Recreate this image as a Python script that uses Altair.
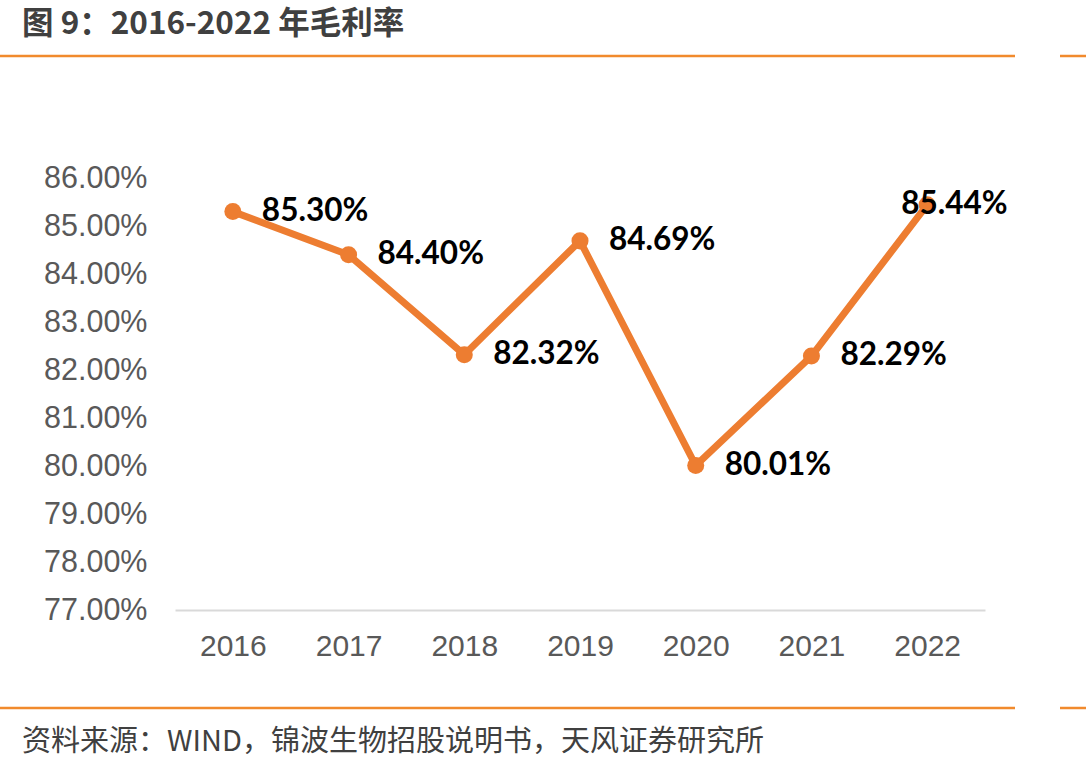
import altair as alt
import pandas as pd

# Gross margin by year
years = ["2016", "2017", "2018", "2019", "2020", "2021", "2022"]
margin = [0.8530, 0.8440, 0.8232, 0.8469, 0.8001, 0.8229, 0.8544]
y_ticks = [0.77, 0.78, 0.79, 0.80, 0.81, 0.82, 0.83, 0.84, 0.85, 0.86]

title_text = "图 9：2016-2022 年毛利率"
source_text = "资料来源：WIND，锦波生物招股说明书，天风证券研究所"

ORANGE = "#ED7D31"
RULE_ORANGE = "#F18A2D"
GREY_TEXT = "#404040"

df = pd.DataFrame({"year": years, "margin": margin})
df["last"] = df["year"] == years[-1]

x_enc = alt.X(
    "year:O",
    scale=alt.Scale(type="point", padding=0.5),
    axis=alt.Axis(
        title=None, labelAngle=0, ticks=False, tickSize=0, grid=False,
        domainColor="#D9D9D9", domainWidth=2,
        labelFont="Liberation Sans", labelFontSize=30, labelColor="#595959",
        labelPadding=21,
    ),
)
y_enc = alt.Y(
    "margin:Q",
    scale=alt.Scale(domain=[0.77, 0.86], nice=False, zero=False),
    axis=alt.Axis(
        title=None, values=y_ticks, format=".2%", ticks=False, tickSize=0,
        domain=False, grid=False,
        labelFont="Liberation Sans", labelFontSize=30.5, labelColor="#595959",
        labelPadding=28,
    ),
)

base = alt.Chart(df).encode(x=x_enc, y=y_enc)

line = base.mark_line(color=ORANGE, strokeWidth=7)
points = base.mark_point(filled=True, color=ORANGE, size=290, opacity=1)

label_style = dict(font="Lato", fontWeight="bold", fontSize=31.5, color="#000000",
                   align="left", baseline="middle")
labels = base.transform_filter("!datum.last").mark_text(dx=29, **label_style).encode(
    text=alt.Text("margin:Q", format=".2%")
)
label_last = base.transform_filter("datum.last").mark_text(dx=-26, **label_style).encode(
    text=alt.Text("margin:Q", format=".2%")
)

one = pd.DataFrame({"t": [0]})

title = alt.Chart(pd.DataFrame({"t": [title_text]})).mark_text(
    font="Noto Sans CJK SC", fontWeight="bold", fontSize=31.5, color=GREY_TEXT,
    align="left", baseline="middle",
).encode(x=alt.value(-153), y=alt.value(-153), text="t:N")

source = alt.Chart(pd.DataFrame({"t": [source_text]})).mark_text(
    font="Noto Sans CJK SC", fontSize=29, color=GREY_TEXT,
    align="left", baseline="middle",
).encode(x=alt.value(-153), y=alt.value(564), text="t:N")

def rule(x0, x1, y):
    return alt.Chart(one).mark_rule(color=RULE_ORANGE, strokeWidth=2.5).encode(
        x=alt.value(x0), x2=alt.value(x1), y=alt.value(y)
    )

rules = [rule(-175, 840, -122), rule(885, 911, -122), rule(-175, 840, 530), rule(885, 911, 530)]

chart = alt.layer(line, points, labels, label_last, title, source, *rules).properties(
    width=810,
    height=432,
    autosize=alt.AutoSizeParams(type="none"),
    padding={"left": 175, "top": 178, "right": 101, "bottom": 162},
    background="white",
).configure_view(stroke=None)

chart.save("out.html", embed_options={"renderer": "svg", "actions": False})
